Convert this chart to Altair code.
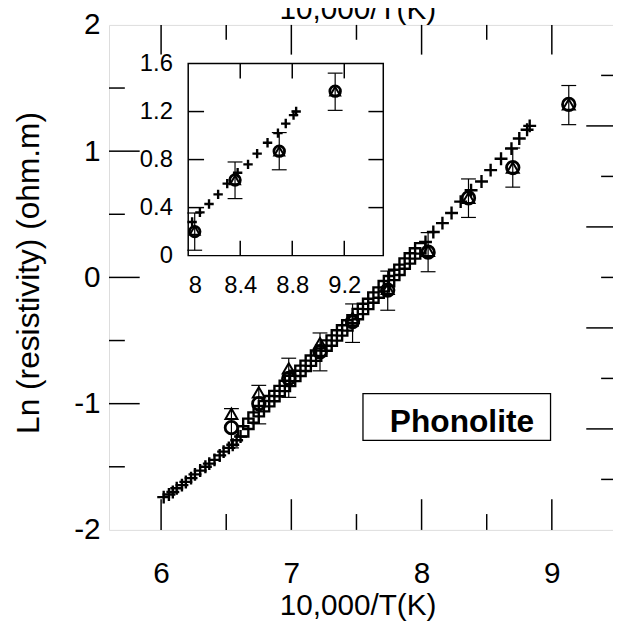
import altair as alt
import pandas as pd

# ---------------- data ----------------
cross_x = [6.02, 6.06, 6.09, 6.12, 6.16, 6.19, 6.23, 6.26, 6.30, 6.34, 6.37, 6.41, 6.45, 6.48, 6.52, 6.55, 6.58, 6.61,
           8.03, 8.09, 8.16, 8.23, 8.30, 8.38, 8.46, 8.53, 8.61, 8.69, 8.75, 8.81, 8.83]
cross_y = [-1.74, -1.72, -1.70, -1.67, -1.645, -1.62, -1.59, -1.56, -1.53, -1.50, -1.475, -1.445, -1.41, -1.38, -1.35, -1.325, -1.29, -1.26,
           0.28, 0.36, 0.43, 0.51, 0.60, 0.69, 0.76, 0.85, 0.94, 1.02, 1.10, 1.17, 1.20]

square_x = [6.63, 6.67, 6.71, 6.75, 6.79, 6.83, 6.87, 6.91, 6.95, 6.99, 7.03, 7.07, 7.11, 7.15, 7.19, 7.23, 7.27, 7.31,
            7.35, 7.39, 7.43, 7.47, 7.51, 7.55, 7.59, 7.63, 7.67, 7.71, 7.75, 7.79, 7.83, 7.87, 7.91, 7.95, 7.99]
square_y = [-1.22, -1.16, -1.11, -1.06, -1.02, -0.98, -0.94, -0.90, -0.86, -0.82, -0.78, -0.74, -0.70, -0.66, -0.62, -0.58,
            -0.54, -0.50, -0.46, -0.42, -0.38, -0.34, -0.29, -0.25, -0.21, -0.16, -0.12, -0.07, -0.03, 0.02, 0.06, 0.11,
            0.15, 0.19, 0.23]

circle_x = [6.54, 6.75, 6.98, 7.22, 7.47, 7.74, 8.05, 8.36, 8.70, 9.13]
circle_y = [-1.19, -1.00, -0.80, -0.59, -0.35, -0.10, 0.20, 0.63, 0.87, 1.37]
err_hi = [-1.04, -0.855, -0.64, -0.44, -0.21, 0.05, 0.355, 0.78, 1.025, 1.52]
err_lo = [-1.35, -1.16, -0.95, -0.74, -0.515, -0.26, 0.045, 0.475, 0.715, 1.21]
triangle_y = [-1.08, -0.91, -0.72, -0.52, -0.32, -0.09, 0.21, 0.63, 0.87, 1.37]

# main axes
x_domain = [5.6, 9.5]
y_domain = [-2.0, 2.0]
x_labels = [6, 7, 8, 9]
y_labels = [-2, -1, 0, 1, 2]
x_major = [6, 7, 8, 9]
x_minor = [6.5, 7.5, 8.5]
y_major = [-1, 0, 1]
y_minor = [-1.5, -0.5, 0.5, 1.5]
right_major = [-1.2, -0.4, 0.4, 1.2]
right_minor = [-1.6, -0.8, 0.0, 0.8, 1.6]

# inset axes
ix_domain = [8.0, 9.5]
iy_domain = [0.0, 1.6]
ix_labels = [8, 8.4, 8.8, 9.2]
iy_labels = [0, 0.4, 0.8, 1.2, 1.6]
ix_ticks = [8.4, 8.8, 9.2]
iy_ticks = [0.4, 0.8, 1.2]

# annotations
box_x = [7.55, 8.99]
box_y = [-1.29, -0.92]
label_text = "Phonolite"
label_x = 8.31
label_y = -1.224
top_title = "10,000/T(K)"
top_title_x = 7.51

# ---------------- layout ----------------
FONT = "Liberation Sans"
W, H = 513, 510
INSET_RX = [80, 277]
INSET_RY = [233, 39]

sx = alt.Scale(domain=x_domain, nice=False, zero=False)
sy = alt.Scale(domain=y_domain, nice=False, zero=False)
six = alt.Scale(domain=ix_domain, range=INSET_RX, nice=False, zero=False)
siy = alt.Scale(domain=iy_domain, range=INSET_RY, nice=False, zero=False)

LBL = "'' + datum.value"
ax_x = alt.Axis(values=x_labels, labelExpr=LBL, ticks=False, tickSize=0, domain=False, grid=False,
                labelFont=FONT, labelFontSize=30, labelColor="black", labelBaseline="alphabetic",
                labelPadding=53, title="10,000/T(K)", titleFont=FONT, titleFontSize=30,
                titleFontWeight="normal", titleColor="black", titleX=251, titleY=85,
                titleBaseline="alphabetic")
ax_y = alt.Axis(values=y_labels, labelExpr=LBL, ticks=False, tickSize=0, domain=False, grid=False,
                labelFont=FONT, labelFontSize=30, labelColor="black", labelPadding=9,
                title="Ln (resistivity) (ohm.m)", titleFont=FONT, titleFontSize=32,
                titleFontWeight="normal", titleColor="black", titleX=-81, titleY=250,
                titleBaseline="middle", titleAngle=270)
ax_ix = alt.Axis(orient="bottom", offset=-(H - INSET_RY[0]), values=ix_labels, labelExpr=LBL,
                 ticks=False, tickSize=0, domain=False, grid=False, labelFont=FONT, labelFontSize=24,
                 labelColor="black", labelBaseline="alphabetic", labelPadding=37, title=None)
ax_iy = alt.Axis(orient="left", offset=-INSET_RX[0], values=iy_labels, labelExpr=LBL,
                 ticks=False, tickSize=0, domain=False, grid=False, labelFont=FONT, labelFontSize=24,
                 labelColor="black", labelPadding=16, title=None)

CROSS = "M-1,0H1M0,-1V1"

pts = pd.DataFrame({"x": circle_x, "y": circle_y, "t": triangle_y, "lo": err_lo, "hi": err_hi})
crosses = pd.DataFrame({"x": cross_x, "y": cross_y})
squares = pd.DataFrame({"x": square_x, "y": square_y})


def series_layers(xs, xa, ys, ya, inset):
    def X(f):
        return alt.X(f + ":Q", scale=xs, axis=xa)

    def Y(f):
        return alt.Y(f + ":Q", scale=ys, axis=ya)

    csize = 90 if inset else 170
    osize = 115 if inset else 160
    tsize = 100 if inset else 145
    layers = []
    sq = alt.Chart(squares)
    cr = alt.Chart(crosses)
    pp = alt.Chart(pts)
    if inset:
        cr = cr.transform_filter(alt.datum.x >= ix_domain[0])
        pp = pp.transform_filter(alt.datum.x >= ix_domain[0])
    else:
        layers.append(sq.mark_point(shape="square", filled=False, size=110, strokeWidth=2.4,
                                    color="black", opacity=1).encode(x=X("x"), y=Y("y")))
    layers.append(cr.mark_point(shape=CROSS, filled=False, size=csize, strokeWidth=2.4,
                                color="black", opacity=1).encode(x=X("x"), y=Y("y")))
    layers.append(pp.mark_rule(color="black", strokeWidth=1.2).encode(x=X("x"), y=Y("lo"), y2="hi:Q"))
    layers.append(pp.mark_tick(orient="horizontal", size=15, thickness=1.2, color="black",
                               opacity=1).encode(x=X("x"), y=Y("hi")))
    layers.append(pp.mark_tick(orient="horizontal", size=15, thickness=1.2, color="black",
                               opacity=1).encode(x=X("x"), y=Y("lo")))
    layers.append(pp.mark_point(shape="circle", filled=False, size=osize, strokeWidth=2.8,
                                color="black", opacity=1).encode(x=X("x"), y=Y("y")))
    layers.append(pp.mark_point(shape="triangle-up", filled=False, size=tsize, strokeWidth=2.0,
                                color="black", opacity=1).encode(x=X("x"), y=Y("t")))
    return layers


def edge_ticks(vals, side, edge, length, xs, xa, ys, ya):
    df = pd.DataFrame({"v": vals})
    half = length / 2.0
    if side in ("left", "right"):
        off = half if side == "left" else -half
        return alt.Chart(df).mark_tick(orient="horizontal", size=length, thickness=1.5, xOffset=off,
                                       color="black", opacity=1).encode(
            x=alt.X(datum=edge, type="quantitative", scale=xs, axis=xa),
            y=alt.Y("v:Q", scale=ys, axis=ya))
    off = -half if side == "bottom" else half
    return alt.Chart(df).mark_tick(orient="vertical", size=length, thickness=1.5, yOffset=off,
                                   color="black", opacity=1).encode(
        x=alt.X("v:Q", scale=xs, axis=xa),
        y=alt.Y(datum=edge, type="quantitative", scale=ys, axis=ya))


# ---------- main panel ----------
main_layers = series_layers(sx, ax_x, sy, ax_y, inset=False)
box_df = pd.DataFrame({"x1": [box_x[0]], "x2": [box_x[1]], "y1": [box_y[0]], "y2": [box_y[1]]})
main_layers.append(alt.Chart(box_df).mark_rect(fill="white", stroke="black", strokeWidth=1.3).encode(
    x=alt.X("x1:Q", scale=sx, axis=ax_x), x2="x2:Q",
    y=alt.Y("y1:Q", scale=sy, axis=ax_y), y2="y2:Q"))
lab_df = pd.DataFrame({"x": [label_x], "y": [label_y], "s": [label_text]})
main_layers.append(alt.Chart(lab_df).mark_text(font=FONT, fontSize=32, fontWeight="bold",
                                                baseline="alphabetic", align="center", color="black").encode(
    x=alt.X("x:Q", scale=sx, axis=ax_x), y=alt.Y("y:Q", scale=sy, axis=ax_y), text="s:N"))
# top axis title (cut off by the top edge, as in the source figure)
tt_df = pd.DataFrame({"x": [top_title_x], "y": [y_domain[1]], "s": [top_title]})
main_layers.append(alt.Chart(tt_df).mark_text(font=FONT, fontSize=30, baseline="alphabetic",
                                               align="center", dy=-6, color="black").encode(
    x=alt.X("x:Q", scale=sx, axis=ax_x), y=alt.Y("y:Q", scale=sy, axis=ax_y), text="s:N"))
main_layers += [
    edge_ticks(y_major, "left", x_domain[0], 31, sx, ax_x, sy, ax_y),
    edge_ticks(y_minor, "left", x_domain[0], 16, sx, ax_x, sy, ax_y),
    edge_ticks(right_major, "right", x_domain[1], 31, sx, ax_x, sy, ax_y),
    edge_ticks(right_minor, "right", x_domain[1], 16, sx, ax_x, sy, ax_y),
    edge_ticks(x_major, "bottom", y_domain[0], 31, sx, ax_x, sy, ax_y),
    edge_ticks(x_minor, "bottom", y_domain[0], 16, sx, ax_x, sy, ax_y),
    edge_ticks(x_major, "top", y_domain[1], 30, sx, ax_x, sy, ax_y),
    edge_ticks(x_minor, "top", y_domain[1], 15, sx, ax_x, sy, ax_y),
]
main = alt.layer(*main_layers)

# ---------- inset panel ----------
frame = alt.Chart(pd.DataFrame({"a": [0]})).mark_rect(fill="white", stroke="black", strokeWidth=1.5).encode(
    x=alt.X(datum=ix_domain[0], type="quantitative", scale=six, axis=ax_ix),
    x2=alt.X2(datum=ix_domain[1]),
    y=alt.Y(datum=iy_domain[0], type="quantitative", scale=siy, axis=ax_iy),
    y2=alt.Y2(datum=iy_domain[1]))
inset_layers = [frame] + series_layers(six, ax_ix, siy, ax_iy, inset=True)
inset_layers += [
    edge_ticks(ix_ticks, "bottom", iy_domain[0], 15, six, ax_ix, siy, ax_iy),
    edge_ticks(ix_ticks, "top", iy_domain[1], 15, six, ax_ix, siy, ax_iy),
    edge_ticks(iy_ticks, "left", ix_domain[0], 16, six, ax_ix, siy, ax_iy),
    edge_ticks(iy_ticks, "right", ix_domain[1], 15, six, ax_ix, siy, ax_iy),
]
inset = alt.layer(*inset_layers)

chart = alt.layer(main, inset).resolve_scale(x="independent", y="independent").properties(
    width=W, height=H,
    autosize=alt.AutoSizeParams(type="none"),
    padding={"left": 102, "top": 14, "right": -4, "bottom": 98},
).configure_view(stroke="black", strokeWidth=1.5).configure(background="white")

chart.save("out.html", embed_options={"renderer": "svg", "actions": False})
